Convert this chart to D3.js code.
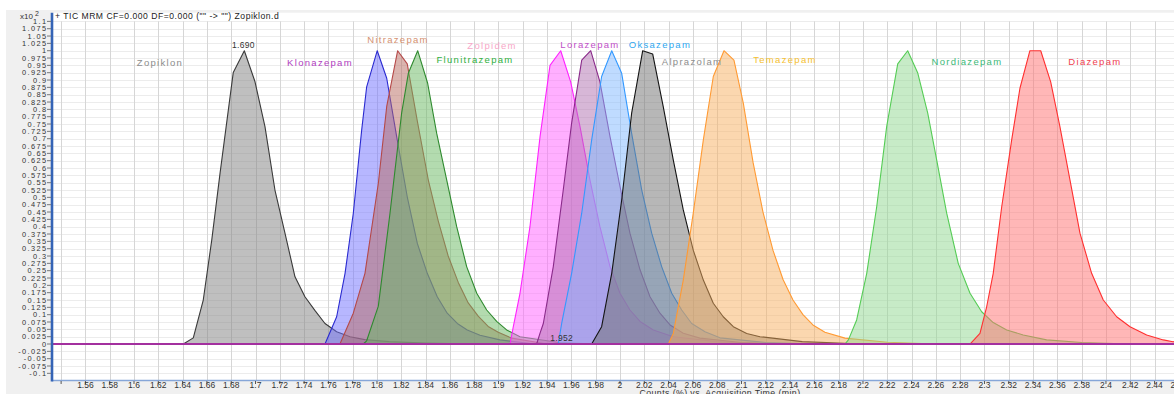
<!DOCTYPE html>
<html><head><meta charset="utf-8">
<script src="https://cdn.jsdelivr.net/npm/d3@7"></script>
<style>
html,body{margin:0;padding:0;background:#fff;overflow:hidden}
svg{display:block;font-family:"Liberation Sans",Arial,sans-serif}
</style></head><body>
<svg id="c" width="1174" height="394"></svg>
<script>
// ---------- DATA (time in min, counts in units of x10^2 %) ----------
const compounds = ["Zopiklon","Klonazepam","Nitrazepam","Flunitrazepam","Zolpidem","Lorazepam","Oksazepam","Alprazolam","Temazepam","Nordiazepam","Diazepam"];

const zopiklonT = [1.6406,1.6488,1.657,1.664,1.6708,1.6817,1.6908,1.6996,1.7078,1.716,1.7243,1.7325,1.7407,1.749,1.7572,1.7668,1.7778,1.79,1.81,1.84,1.88];
const zopiklonV = [0,0.021,0.15,0.355,0.582,0.926,1.0,0.894,0.741,0.525,0.377,0.229,0.161,0.114,0.07,0.042,0.025,0.015,0.008,0.003,0];

const klonazepamT = [1.7572,1.7668,1.7737,1.7805,1.7874,1.7915,1.8002,1.808,1.8162,1.8249,1.8332,1.8414,1.8496,1.8578,1.8661,1.8743,1.8848,1.9012,1.93];
const klonazepamV = [0,0.093,0.241,0.446,0.73,0.877,1.0,0.906,0.707,0.502,0.343,0.241,0.161,0.105,0.07,0.048,0.03,0.014,0];

const nitrazepamT = [1.7695,1.7805,1.7901,1.8011,1.808,1.817,1.8249,1.8332,1.8422,1.8504,1.8586,1.8669,1.8751,1.8833,1.8915,1.8998,1.9109,1.94];
const nitrazepamV = [0,0.105,0.241,0.548,0.81,1.0,0.955,0.76,0.56,0.42,0.3,0.21,0.14,0.095,0.06,0.04,0.02,0];

const flunitrazepamT = [1.7887,1.7915,1.8011,1.8107,1.8203,1.8258,1.8335,1.8417,1.8491,1.8574,1.8656,1.8738,1.8821,1.8903,1.8985,1.9067,1.9177,1.95,1.98];
const flunitrazepamV = [0,0.011,0.129,0.446,0.788,0.923,1.0,0.889,0.719,0.559,0.4,0.264,0.173,0.116,0.077,0.048,0.025,0.005,0];

const zolpidemT = [1.9095,1.9122,1.9177,1.9259,1.9342,1.9424,1.9512,1.9594,1.9671,1.9753,1.9835,1.9918,2.0,2.0082,2.0165,2.0274,2.0439,2.08,2.12];
const zolpidemV = [0,0.059,0.173,0.4,0.707,0.95,1.0,0.894,0.741,0.559,0.4,0.264,0.173,0.116,0.077,0.048,0.025,0.008,0];

const lorazepamT = [1.9314,1.9342,1.9369,1.9451,1.9533,1.9602,1.9685,1.9759,1.9835,1.9918,2.0,2.0082,2.0165,2.0247,2.0329,2.0412,2.0521,2.0658,2.1,2.14];
const lorazepamV = [0,0.037,0.07,0.264,0.525,0.753,0.968,1.0,0.894,0.707,0.537,0.378,0.253,0.161,0.105,0.065,0.037,0.02,0.005,0];

const oksazepamT = [1.9492,1.952,1.9602,1.9685,1.9767,1.9849,1.9932,2.0014,2.0096,2.0179,2.0261,2.0343,2.0426,2.0508,2.059,2.07,2.0823,2.12,2.16];
const oksazepamV = [0,0.07,0.241,0.446,0.696,0.912,1.0,0.923,0.718,0.525,0.378,0.264,0.173,0.116,0.07,0.042,0.021,0.005,0];

const alprazolamT = [1.9767,1.9849,1.9932,2.0014,2.0096,2.0187,2.0269,2.0356,2.0439,2.0521,2.0603,2.0686,2.0768,2.085,2.0933,2.1043,2.1152,2.15,2.2];
const alprazolamV = [0,0.059,0.241,0.491,0.787,1.0,0.989,0.809,0.627,0.457,0.32,0.218,0.139,0.093,0.059,0.036,0.025,0.008,0];

const temazepamT = [2.0398,2.0439,2.0521,2.0603,2.0686,2.0768,2.0856,2.0938,2.1015,2.1095,2.1177,2.1259,2.1342,2.1424,2.1506,2.1588,2.1687,2.1852,2.22,2.26];
const temazepamV = [0,0.036,0.218,0.446,0.696,0.912,1.0,0.968,0.821,0.62,0.45,0.32,0.22,0.15,0.1,0.065,0.04,0.02,0.006,0];

const nordiazepamT = [2.1852,2.188,2.1948,2.2031,2.2113,2.2195,2.2286,2.2368,2.245,2.2533,2.2607,2.2689,2.2784,2.2881,2.2977,2.3072,2.3183,2.3319,2.3512,2.38,2.42];
const nordiazepamV = [0,0.014,0.082,0.241,0.468,0.741,0.955,1.0,0.925,0.787,0.627,0.446,0.275,0.173,0.11,0.073,0.048,0.031,0.014,0.005,0];

const diazepamT = [2.2881,2.2963,2.3018,2.3072,2.3142,2.3224,2.3292,2.3374,2.3463,2.3545,2.3621,2.3704,2.3786,2.3882,2.3978,2.4088,2.4198,2.4335,2.4472,2.4551,2.47];
const diazepamV = [0,0.036,0.127,0.241,0.468,0.696,0.872,1.0,1.0,0.894,0.741,0.559,0.378,0.241,0.15,0.093,0.059,0.031,0.014,0.008,0];

// label anchor positions (time, counts)
const labelT = [1.6214,1.7531,1.8173,1.8807,1.8947,1.9753,2.0329,2.0593,2.1358,2.2856,2.3909];
const labelV = [0.958,0.958,1.036,0.968,1.016,1.019,1.019,0.961,0.968,0.961,0.961];

// apex-time annotations
const apexText = ["1.690","1.952"];
const apexT = [1.690,1.952];
const apexV = [1.0,0.0];

const xTickValues = d3.range(1.54, 2.4601, 0.02).map(v => +v.toFixed(2));
const xTickLabels = xTickValues.map(v => v === 1.54 ? "" : String(v));
const yTickValues = d3.range(-0.1, 1.1001, 0.025).map(v => +v.toFixed(3));
const yTickLabels = yTickValues.map(v => String(v));

const titleText = '+ TIC MRM CF=0.000 DF=0.000 ("" -> "") Zopiklon.d';
const xAxisTitle = "Counts (%) vs. Acquisition Time (min)";

// ---------- STYLE ----------
const strokeCols = ["#3a3a3a","#2a2ad0","#b54848","#2f8a2f","#ff22ff","#8a2a8a","#3399ff","#141414","#ff9a33","#55cc55","#ff3030"];
const fillCols   = ["#808080","#7070ff","#b86a60","#68b860","#ff60ff","#b070b0","#80b8ff","#707070","#f8b060","#90d890","#ff7070"];
const labelCols  = ["#8c8c8c","#b040c0","#d49070","#30b040","#f7a8c8","#c050c8","#30a8f0","#8c8c8c","#f5c030","#3cb878","#f04050"];

const seriesT = [zopiklonT,klonazepamT,nitrazepamT,flunitrazepamT,zolpidemT,lorazepamT,oksazepamT,alprazolamT,temazepamT,nordiazepamT,diazepamT];
const seriesV = [zopiklonV,klonazepamV,nitrazepamV,flunitrazepamV,zolpidemV,lorazepamV,oksazepamV,alprazolamV,temazepamV,nordiazepamV,diazepamV];

// ---------- CHART ----------
const W = 1174, H = 394;
const L = 52, R = 1200, T = 12.7, B = 380;
const svg = d3.select("#c");

const x = d3.scaleLinear().domain([1.5325, 2.4774]).range([L, R]);
const y = d3.scaleLinear().domain([-0.1227, 1.1296]).range([B, T]);

svg.append("rect").attr("x",0).attr("y",0).attr("width",W).attr("height",H).attr("fill","#fff");
svg.append("rect").attr("x",6).attr("y",10).attr("width",W-6).attr("height",H-10).attr("fill","#f0f0f0");
svg.append("rect").attr("x",L).attr("y",T).attr("width",W-L).attr("height",B-T).attr("fill","#fff");

svg.append("defs").append("clipPath").attr("id","clip")
  .append("rect").attr("x",L).attr("y",T).attr("width",W-L).attr("height",B-T);

const plot = svg.append("g").attr("clip-path","url(#clip)");

// horizontal grid
plot.append("g").selectAll("line").data(yTickValues).join("line")
  .attr("x1",L).attr("x2",R)
  .attr("y1",d=>Math.round(y(d))+0.5).attr("y2",d=>Math.round(y(d))+0.5)
  .attr("stroke","#ececec").attr("stroke-width",1);
// vertical grid
plot.append("g").selectAll("line").data(xTickValues).join("line")
  .attr("x1",d=>Math.round(x(d))+0.5).attr("x2",d=>Math.round(x(d))+0.5)
  .attr("y1",y(1.1)).attr("y2",B)
  .attr("stroke","#d6d6d6").attr("stroke-width",1);

// peaks
const area = d3.area().x(d=>x(d[0])).y0(y(0)).y1(d=>y(d[1]));
const line = d3.line().x(d=>x(d[0])).y(d=>y(d[1]));
compounds.forEach((name,i)=>{
  const pts = seriesT[i].map((t,k)=>[t,seriesV[i][k]]);
  const g = plot.append("g");
  g.append("path").attr("d",area(pts)).attr("fill",fillCols[i]).attr("fill-opacity",0.5);
  g.append("path").attr("d",line(pts)).attr("fill","none").attr("stroke",strokeCols[i]).attr("stroke-width",1.1).attr("stroke-linejoin","round");
});

// baseline (overlapping flat traces)
plot.append("line").attr("x1",L).attr("x2",R).attr("y1",y(0)).attr("y2",y(0))
  .attr("stroke","#a3309f").attr("stroke-width",2);

// compound labels
plot.append("g").selectAll("text").data(compounds).join("text")
  .attr("x",(d,i)=>x(labelT[i])).attr("y",(d,i)=>y(labelV[i]))
  .attr("dy","0.35em").attr("text-anchor","middle")
  .attr("font-size",9.5).attr("letter-spacing",1.3)
  .attr("fill",(d,i)=>labelCols[i]).text(d=>d);

// apex annotations
plot.append("g").selectAll("text").data(apexText).join("text")
  .attr("x",(d,i)=>x(apexT[i])).attr("y",(d,i)=>y(apexV[i])-3)
  .attr("text-anchor","middle").attr("font-size",8.5).attr("letter-spacing",0.3).attr("fill","#333").text(d=>d);

// axes lines
svg.append("line").attr("x1",L).attr("x2",W).attr("y1",B+0.5).attr("y2",B+0.5)
  .attr("stroke","#86a6d8").attr("stroke-width",1.6);
svg.append("line").attr("x1",L).attr("x2",L).attr("y1",T).attr("y2",B+1.5)
  .attr("stroke","#3564b6").attr("stroke-width",2.6);

// y ticks
const yt = svg.append("g");
yt.selectAll("line").data(yTickValues).join("line")
  .attr("x1",L-5).attr("x2",L-1).attr("y1",d=>y(d)).attr("y2",d=>y(d))
  .attr("stroke","#777").attr("stroke-width",1);
yt.selectAll("text").data(yTickValues).join("text")
  .attr("x",L-4.5).attr("y",d=>y(d)).attr("dy","0.35em").attr("text-anchor","end")
  .attr("font-size",7.4).attr("letter-spacing",1.4).attr("fill","#333").text((d,i)=>yTickLabels[i]);

// x ticks
const xt = svg.append("g");
xt.selectAll("line").data(xTickValues).join("line")
  .attr("x1",d=>x(d)).attr("x2",d=>x(d)).attr("y1",B+1).attr("y2",B+4)
  .attr("stroke","#555").attr("stroke-width",1);
xt.selectAll("text").data(xTickValues).join("text")
  .attr("x",d=>x(d)).attr("y",B+8).attr("text-anchor","middle")
  .attr("font-size",8.5).attr("fill","#333").text((d,i)=>xTickLabels[i]);

// titles
svg.append("text").attr("x",55).attr("y",18.5).attr("font-size",8.6).attr("letter-spacing",0.5).attr("fill","#222").text(titleText);
svg.append("text").attr("x",720).attr("y",396).attr("text-anchor","middle").attr("font-size",8.8).attr("letter-spacing",0.4).attr("fill","#333").text(xAxisTitle);
const mult = svg.append("text").attr("x",20).attr("y",19).attr("font-size",8).attr("fill","#333");
mult.append("tspan").text("x10");
mult.append("tspan").attr("dx",2).attr("dy",-3).attr("font-size",7).text("2");
</script>
</body></html>
